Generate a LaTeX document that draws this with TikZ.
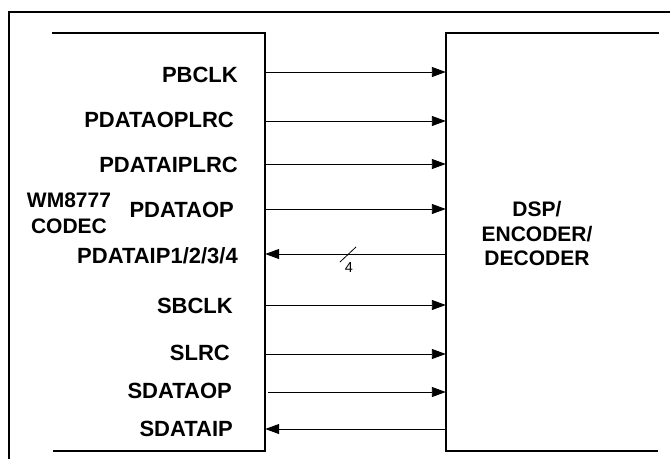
\documentclass[tikz,border=0pt]{standalone}
\usepackage{fontspec}
\setmainfont{Liberation Sans}
\usetikzlibrary{arrows.meta,positioning}

\begin{document}
\begin{tikzpicture}[x=1pt, y=-1pt,
    blk/.style={minimum width=213pt, minimum height=418pt, inner sep=0pt},
    sig/.style={font=\fontsize{22}{24}\selectfont\bfseries, anchor=base east, inner sep=0pt},
    title/.style={font=\fontsize{21}{#1}\selectfont\bfseries, align=center, inner sep=0pt},
    title/.default=26pt,
    side/.style={line width=1.6pt},
    tx/.style={-{Triangle[length=14pt, width=10pt]}, line width=0.9pt},
    rx/.style={{Triangle[length=14pt, width=10pt]}-, line width=0.9pt}
]
    \useasboundingbox (0,0) rectangle (670,459);

    % Outer frame
    \draw[side] (9,459) -- (9,12) -- (670,12);

    % The two blocks (open on the far side)
    \node[blk] (codec) at (158.5,242) {};
    \node[blk] (dsp) at (552.5,242) {};
    \draw[side] (codec.north west) -- (codec.north east) -- (codec.south east) -- ([xshift=1pt]codec.south west);
    \draw[side] (dsp.north east) -- (dsp.north west) -- (dsp.south west) -- ([xshift=-1pt]dsp.south east);

    \node[title] (codec-name) at (69,213) {WM8777\\CODEC};
    \node[title=24.5pt] (dsp-name) at (537,233.5) {DSP/\\ENCODER/\\DECODER};

    % Pin names
    \node[sig] (pbclk) at (238,82) {PBCLK};
    \node[sig] (pdaoplrc) at (234,127) {PDATAOPLRC};
    \node[sig] (pdaiplrc) at (238,172) {PDATAIPLRC};
    \node[sig] (pdaop) at (234,217) {PDATAOP};
    \node[sig] (pdaip) at (238,263) {PDATAIP1/2/3/4};
    \node[sig] (sbclk) at (233,313) {SBCLK};
    \node[sig] (slrc) at (230,360) {SLRC};
    \node[sig] (sdaop) at (232,398) {SDATAOP};
    \node[sig] (sdaip) at (233,436) {SDATAIP};

    % Signal lines
    \draw[tx] (codec.east |- 0,72) -- (dsp.west |- 0,72);
    \draw[tx] (codec.east |- 0,121) -- (dsp.west |- 0,121);
    \draw[tx] (codec.east |- 0,164) -- (dsp.west |- 0,164);
    \draw[tx] (codec.east |- 0,209) -- (dsp.west |- 0,209);
    \draw[rx] (codec.east |- 0,254) -- (dsp.west |- 0,254);
    \draw[tx] (codec.east |- 0,305) -- (dsp.west |- 0,305);
    \draw[tx] (codec.east |- 0,354) -- (dsp.west |- 0,354);
    \draw[tx] ([xshift=3pt]codec.east |- 0,392) -- (dsp.west |- 0,392);
    \draw[rx] (codec.east |- 0,429) -- (dsp.west |- 0,429);

    % Bus width mark
    \draw[line width=0.8pt] (340,262) -- (356,247);
    \node[font=\fontsize{14.5}{16}\selectfont, inner sep=0pt] (bus4) at (349,268) {4};
\end{tikzpicture}
\end{document}
